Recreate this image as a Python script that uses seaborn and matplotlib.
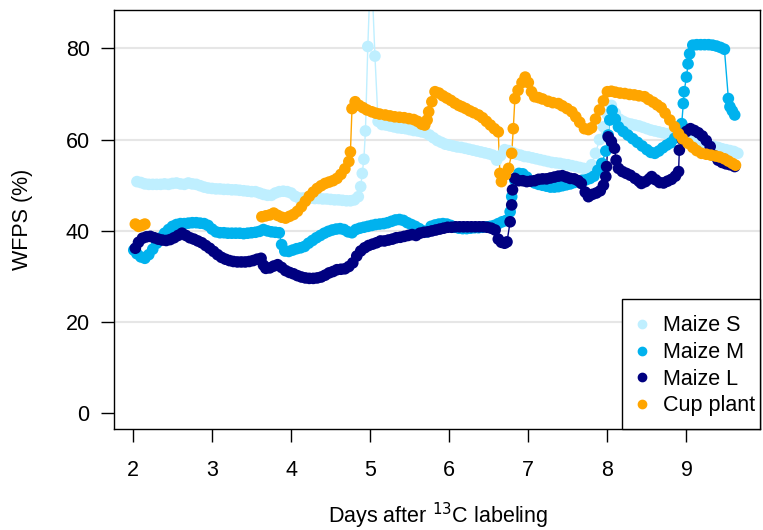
import numpy as np
import pandas as pd
import matplotlib
matplotlib.use("Agg")
import matplotlib.pyplot as plt
from matplotlib.lines import Line2D
from matplotlib.patches import Rectangle
import seaborn as sns

sns.set_theme(style="white")
plt.rcParams['font.family'] = ['Liberation Sans', 'DejaVu Sans']
plt.rcParams['text.color'] = 'black'
plt.rcParams['axes.labelcolor'] = 'black'
plt.rcParams['xtick.color'] = 'black'
plt.rcParams['ytick.color'] = 'black'

# WFPS readings (days after labeling, %)
maize_s_x = [2.05, 2.10, 2.15, 2.20, 2.25, 2.30, 2.35, 2.40, 2.45, 2.50, 2.55, 2.60, 2.65, 2.70, 2.75,
             2.80, 2.85, 2.90, 2.95, 3.00, 3.05, 3.10, 3.15, 3.20, 3.25, 3.30, 3.35, 3.40, 3.45, 3.50,
             3.55, 3.60, 3.65, 3.70, 3.75, 3.80, 3.85, 3.90, 3.95, 4.00, 4.05, 4.10, 4.15, 4.20, 4.25,
             4.30, 4.35, 4.40, 4.45, 4.50, 4.55, 4.60, 4.65, 4.70, 4.75, 4.80, 4.85, 4.88, 4.90, 4.92,
             4.94, 4.97, 5.01, 5.06, 5.10, 5.15, 5.20, 5.25, 5.30, 5.35, 5.40, 5.45, 5.50, 5.55, 5.60,
             5.65, 5.70, 5.75, 5.80, 5.85, 5.90, 5.95, 6.00, 6.05, 6.10, 6.15, 6.20, 6.25, 6.30, 6.35,
             6.40, 6.45, 6.50, 6.55, 6.60, 6.65, 6.70, 6.75, 6.80, 6.85, 6.90, 6.95, 7.00, 7.05, 7.10,
             7.15, 7.20, 7.25, 7.30, 7.35, 7.40, 7.45, 7.50, 7.55, 7.60, 7.65, 7.70, 7.75, 7.80, 7.85,
             7.90, 7.95, 8.00, 8.05, 8.10, 8.15, 8.20, 8.25, 8.30, 8.35, 8.40, 8.45, 8.50, 8.55, 8.60,
             8.65, 8.70, 8.75, 8.80, 8.85, 8.90, 8.95, 9.00, 9.05, 9.10, 9.15, 9.20, 9.25, 9.30, 9.35,
             9.40, 9.45, 9.50, 9.55, 9.60, 9.65]
maize_s_y = [50.8, 50.6, 50.3, 50.2, 50.2, 50.2, 50.2, 50.3, 50.2, 50.4, 50.5, 50.3, 50.2, 50.5, 50.3,
             50.2, 49.9, 49.6, 49.4, 49.3, 49.2, 49.2, 49.1, 49.1, 49.0, 49.0, 48.9, 48.8, 48.7, 48.6,
             48.6, 48.3, 48.0, 47.8, 47.8, 48.3, 48.6, 48.7, 48.6, 48.3, 47.6, 47.2, 47.2, 47.3, 47.2,
             47.1, 47.1, 47.0, 47.0, 46.9, 46.8, 46.8, 46.7, 46.6, 46.6, 46.8, 47.5, 49.7, 52.6, 55.7,
             61.9, 80.4, 100.0, 78.3, 64.0, 63.3, 63.2, 63.0, 62.8, 62.6, 62.5, 62.4, 62.2, 62.0, 61.9,
             61.7, 61.5, 61.0, 60.4, 59.8, 59.4, 59.0, 58.8, 58.6, 58.4, 58.3, 58.1, 57.9, 57.7, 57.5,
             57.3, 57.1, 56.9, 56.6, 55.5, 56.5, 57.8, 57.6, 57.2, 56.8, 56.6, 56.3, 56.2, 56.0, 55.8,
             55.6, 55.4, 55.2, 55.0, 54.9, 54.8, 54.6, 54.5, 54.3, 54.1, 53.9, 53.7, 53.6, 54.5, 57.0,
             60.0, 62.8, 65.5, 67.5, 65.8, 64.5, 64.0, 63.6, 63.4, 63.2, 63.0, 62.7, 62.4, 62.1, 61.9,
             61.7, 61.5, 61.3, 61.1, 60.9, 60.7, 60.5, 60.3, 60.0, 59.7, 59.4, 59.1, 58.9, 58.7, 58.5,
             58.3, 58.0, 57.8, 57.6, 57.4, 57.0]

maize_m_x = [2.01, 2.05, 2.10, 2.15, 2.20, 2.25, 2.30, 2.35, 2.40, 2.45, 2.50, 2.55, 2.60, 2.65, 2.70,
             2.75, 2.80, 2.85, 2.90, 2.95, 3.00, 3.05, 3.10, 3.15, 3.20, 3.25, 3.30, 3.35, 3.40, 3.45,
             3.50, 3.55, 3.60, 3.65, 3.70, 3.75, 3.80, 3.85, 3.88, 3.92, 3.97, 4.02, 4.07, 4.12, 4.17,
             4.22, 4.27, 4.32, 4.37, 4.42, 4.47, 4.52, 4.57, 4.62, 4.67, 4.72, 4.77, 4.82, 4.87, 4.92,
             4.97, 5.02, 5.07, 5.12, 5.17, 5.22, 5.27, 5.32, 5.37, 5.42, 5.47, 5.52, 5.57, 5.62, 5.67,
             5.72, 5.77, 5.82, 5.87, 5.92, 5.97, 6.02, 6.07, 6.12, 6.17, 6.22, 6.27, 6.32, 6.37, 6.42,
             6.47, 6.52, 6.57, 6.62, 6.67, 6.72, 6.77, 6.79, 6.83, 6.88, 6.93, 6.98, 7.03, 7.08, 7.13,
             7.18, 7.23, 7.28, 7.33, 7.38, 7.43, 7.48, 7.53, 7.58, 7.63, 7.68, 7.73, 7.78, 7.83, 7.88,
             7.93, 7.98, 8.01, 8.03, 8.06, 8.10, 8.14, 8.20, 8.26, 8.32, 8.38, 8.44, 8.50, 8.55, 8.60,
             8.65, 8.70, 8.75, 8.80, 8.85, 8.90, 8.94, 8.96, 8.97, 9.00, 9.02, 9.04, 9.08, 9.13, 9.18,
             9.23, 9.28, 9.33, 9.38, 9.43, 9.48, 9.53, 9.55, 9.58, 9.61]
maize_m_y = [35.8, 35.0, 34.3, 34.0, 34.8, 36.0, 37.3, 38.5, 39.5, 40.3, 41.0, 41.4, 41.6, 41.6, 41.7,
             41.8, 41.8, 41.7, 41.6, 41.2, 40.4, 39.8, 39.6, 39.6, 39.5, 39.5, 39.5, 39.5, 39.4, 39.5,
             39.6, 39.7, 39.9, 40.3, 40.0, 39.8, 39.7, 39.6, 37.0, 35.6, 35.5, 35.8, 36.1, 36.3, 36.6,
             37.3, 37.9, 38.5, 39.0, 39.5, 39.9, 40.2, 40.4, 40.5, 40.3, 39.8, 39.6, 40.3, 40.6, 40.8,
             41.0, 41.2, 41.4, 41.5, 41.6, 41.8, 42.1, 42.4, 42.5, 42.3, 41.8, 41.4, 41.0, 40.5, 40.0,
             39.8, 41.0, 41.3, 41.5, 41.6, 41.5, 41.2, 40.8, 40.6, 40.5, 40.5, 40.6, 40.7, 40.7, 40.8,
             40.9, 41.0, 41.2, 41.6, 42.0, 42.3, 44.2, 47.5, 51.1, 52.6, 52.5, 51.8, 51.0, 50.5, 50.2,
             50.0, 49.8, 49.6, 49.6, 49.7, 49.9, 50.1, 50.3, 50.6, 50.9, 51.1, 51.2, 51.5, 52.0, 53.3,
             54.8, 57.5, 61.0, 64.3, 66.4, 64.5, 62.8, 61.8, 61.0, 60.2, 59.4, 58.6, 57.8, 57.2, 57.0,
             57.5, 58.2, 58.8, 59.3, 60.3, 61.8, 63.5, 67.9, 70.5, 73.7, 76.6, 78.8, 80.7, 80.8, 80.8,
             80.8, 80.8, 80.7, 80.5, 80.2, 79.8, 69.0, 67.2, 66.3, 65.4]

maize_l_x = [2.03, 2.07, 2.12, 2.17, 2.22, 2.27, 2.32, 2.37, 2.42, 2.47, 2.52, 2.57, 2.62, 2.67, 2.72,
             2.77, 2.82, 2.87, 2.92, 2.97, 3.02, 3.07, 3.12, 3.17, 3.22, 3.27, 3.32, 3.37, 3.42, 3.47,
             3.52, 3.57, 3.62, 3.65, 3.68, 3.73, 3.78, 3.83, 3.88, 3.93, 3.98, 4.03, 4.08, 4.13, 4.18,
             4.23, 4.28, 4.33, 4.38, 4.43, 4.48, 4.53, 4.58, 4.63, 4.68, 4.73, 4.78, 4.83, 4.88, 4.93,
             4.98, 5.03, 5.08, 5.13, 5.18, 5.23, 5.28, 5.33, 5.38, 5.43, 5.48, 5.53, 5.58, 5.63, 5.68,
             5.73, 5.78, 5.83, 5.88, 5.93, 5.98, 6.03, 6.08, 6.13, 6.18, 6.23, 6.28, 6.33, 6.38, 6.43,
             6.48, 6.53, 6.58, 6.62, 6.66, 6.70, 6.73, 6.77, 6.79, 6.80, 6.83, 6.88, 6.93, 6.98, 7.03,
             7.08, 7.13, 7.18, 7.23, 7.28, 7.33, 7.38, 7.43, 7.48, 7.53, 7.58, 7.63, 7.67, 7.72, 7.76,
             7.81, 7.86, 7.91, 7.95, 7.98, 7.99, 8.01, 8.05, 8.09, 8.11, 8.14, 8.19, 8.24, 8.29, 8.35,
             8.40, 8.43, 8.48, 8.53, 8.56, 8.61, 8.66, 8.71, 8.76, 8.81, 8.86, 8.90, 8.91, 8.95, 9.00,
             9.05, 9.10, 9.15, 9.20, 9.25, 9.30, 9.35, 9.40, 9.45, 9.50, 9.55, 9.61]
maize_l_y = [36.2, 37.5, 38.4, 38.7, 38.8, 38.5, 38.2, 38.0, 37.9, 38.1, 38.5, 39.0, 39.5, 39.0, 38.5,
             38.2, 37.8, 37.4, 36.8, 36.2, 35.5, 34.8, 34.2, 33.8, 33.5, 33.3, 33.2, 33.2, 33.2, 33.3,
             33.5, 33.8, 34.0, 32.5, 31.8, 31.9, 32.3, 32.6, 32.0, 31.3, 30.9, 30.6, 30.2, 29.9, 29.7,
             29.6, 29.6, 29.7, 29.9, 30.3, 30.8, 31.1, 31.5, 31.6, 31.7, 32.2, 33.0, 34.5, 35.6, 36.3,
             36.8, 37.1, 37.4, 37.8, 37.8, 38.0, 38.2, 38.5, 38.6, 38.8, 39.0, 39.2, 39.0, 39.5, 39.7,
             39.8, 40.0, 40.2, 40.4, 40.6, 40.8, 40.8, 40.9, 40.9, 40.9, 40.9, 40.9, 40.9, 40.9, 40.9,
             40.8, 40.6, 40.2, 38.2, 37.5, 37.3, 37.6, 42.0, 45.7, 49.0, 51.5, 51.0, 51.0, 50.8, 50.9,
             51.0, 51.3, 51.4, 51.4, 51.6, 51.8, 52.0, 52.1, 51.8, 51.5, 51.4, 51.0, 50.4, 48.5, 47.5,
             48.0, 48.3, 48.8, 50.0, 51.9, 54.1, 60.6, 59.6, 58.1, 55.5, 53.7, 53.0, 52.6, 52.2, 51.5,
             50.9, 50.4, 50.8, 51.4, 51.9, 51.2, 50.6, 50.5, 50.9, 51.3, 52.0, 53.0, 57.7, 60.0, 61.8,
             62.4, 62.0, 61.5, 60.8, 59.8, 58.5, 56.5, 55.5, 55.0, 54.7, 54.5, 54.1]

cup_x = [2.03, 2.07, 2.11, 2.15,
         3.63, 3.68, 3.73, 3.78, 3.83, 3.88, 3.93, 3.98, 4.03, 4.08, 4.13, 4.18, 4.23, 4.28, 4.33,
         4.38, 4.43, 4.48, 4.53, 4.58, 4.63, 4.68, 4.73, 4.75, 4.77, 4.81, 4.86, 4.91, 4.96, 5.02,
         5.07, 5.12, 5.19, 5.25, 5.31, 5.37, 5.43, 5.49, 5.55, 5.60, 5.65, 5.69, 5.72, 5.74, 5.78,
         5.82, 5.87, 5.92, 5.97, 6.02, 6.07, 6.12, 6.16, 6.21, 6.26, 6.31, 6.37, 6.42, 6.47, 6.52,
         6.57, 6.62, 6.64, 6.66, 6.71, 6.75, 6.79, 6.81, 6.83, 6.87, 6.92, 6.96, 7.00, 7.04, 7.08,
         7.13, 7.18, 7.25, 7.31, 7.38, 7.43, 7.49, 7.55, 7.60, 7.65, 7.71, 7.76, 7.80, 7.85, 7.90,
         7.95, 8.00, 8.05, 8.10, 8.16, 8.22, 8.28, 8.34, 8.40, 8.47, 8.52, 8.58, 8.63, 8.68, 8.73,
         8.79, 8.85, 8.90, 8.95, 9.02, 9.08, 9.13, 9.19, 9.25, 9.31, 9.37, 9.42, 9.48, 9.53, 9.58,
         9.62]
cup_y = [41.5, 41.0, 41.2, 41.5,
         43.1, 43.3, 43.5, 43.9, 43.4, 43.0, 42.8, 43.2, 43.6, 44.3, 45.3, 46.5, 47.6, 48.5, 49.3,
         49.9, 50.4, 50.7, 51.0, 51.5, 52.4, 53.6, 55.2, 57.3, 66.8, 68.3, 67.5, 67.0, 66.5, 66.1,
         65.8, 65.6, 65.4, 65.2, 65.0, 64.9, 64.8, 64.6, 64.4, 64.0, 63.4, 63.2, 64.3, 66.1, 68.3,
         70.5, 70.2, 69.6, 69.1, 68.6, 68.0, 67.5, 67.2, 66.8, 66.3, 65.9, 65.4, 64.8, 64.0, 63.2,
         62.4, 61.7, 52.6, 50.8, 52.3, 53.7, 57.0, 62.4, 69.0, 70.8, 72.5, 73.7, 72.5, 70.5, 69.4,
         69.2, 68.9, 68.4, 68.1, 67.9, 67.4, 66.8, 66.1, 65.0, 63.8, 62.4, 62.2, 62.6, 64.5, 66.5,
         68.5, 70.5, 70.6, 70.4, 70.2, 70.1, 69.9, 69.8, 69.6, 69.4, 68.8, 68.2, 67.6, 67.0, 65.8,
         64.3, 62.8, 61.3, 60.2, 59.2, 58.3, 57.6, 57.0, 56.8, 56.6, 56.4, 56.2, 55.8, 55.3, 54.8,
         54.4]
cup_segment = [1] * 4 + [2] * (len(cup_x) - 4)

labels = ["Maize S", "Maize M", "Maize L", "Cup plant"]
colors = ["#BFEFFF", "#00B2EE", "#000080", "#FFA500"]

frames = []
for name, xs, ys, seg in [
    ("Maize S", maize_s_x, maize_s_y, [1] * len(maize_s_x)),
    ("Maize M", maize_m_x, maize_m_y, [1] * len(maize_m_x)),
    ("Maize L", maize_l_x, maize_l_y, [1] * len(maize_l_x)),
    ("Cup plant", cup_x, cup_y, cup_segment),
]:
    frames.append(pd.DataFrame({"day": xs, "wfps": ys, "treatment": name, "segment": seg}))
df = pd.concat(frames, ignore_index=True)
palette = dict(zip(labels, colors))

fig = plt.figure(figsize=(7.63, 5.30), dpi=100)
ax = fig.add_axes([114 / 763, 1 - 429 / 530, 646 / 763, 419 / 530])

for y in [20, 40, 60, 80]:
    ax.axhline(y, color="#E6E6E6", lw=1.5, zorder=0)

sns.lineplot(data=df, x="day", y="wfps", hue="treatment", units="segment", estimator=None,
             sort=False, palette=palette, lw=1, legend=False, ax=ax, zorder=2)
sns.scatterplot(data=df, x="day", y="wfps", hue="treatment", palette=palette, s=70,
                linewidth=0, legend=False, ax=ax, zorder=3)

ax.set_xlim(1.76, 9.93)
ax.set_ylim(-3.4, 88.4)
ax.set_xticks(range(2, 10))
ax.set_yticks([0, 20, 40, 60, 80])
ax.tick_params(axis="both", direction="out", length=9.5, width=1, color="black",
               labelsize=15.5, left=True, bottom=True)
ax.tick_params(axis="x", pad=13)
ax.tick_params(axis="y", pad=8)
for sp in ax.spines.values():
    sp.set_visible(True)
    sp.set_color("black")
    sp.set_linewidth(1)

ax.set_xlabel("Days after $^{13}$C labeling", fontsize=15.5)
ax.xaxis.set_label_coords(0.502, -0.172)
ax.set_ylabel("WFPS (%)", fontsize=15.5)
ax.yaxis.set_label_coords(-0.125, 0.5)

# legend box flush with lower-right corner, as in base R
ax.add_patch(Rectangle((0.786, 0.0), 0.214, 0.310, transform=ax.transAxes, facecolor="white",
                       edgecolor="black", lw=1, zorder=4, clip_on=False))
handles = [Line2D([], [], marker="o", ls="", color=c, markersize=6) for c in colors]
leg = ax.legend(handles, labels, loc="upper left", bbox_to_anchor=(0.800, 0.271), fontsize=15.5,
                frameon=False, borderaxespad=0, borderpad=0, handlelength=1.0,
                handletextpad=0.5, labelspacing=0.26)
leg.set_zorder(5)

fig.savefig("out.png", dpi=100)
